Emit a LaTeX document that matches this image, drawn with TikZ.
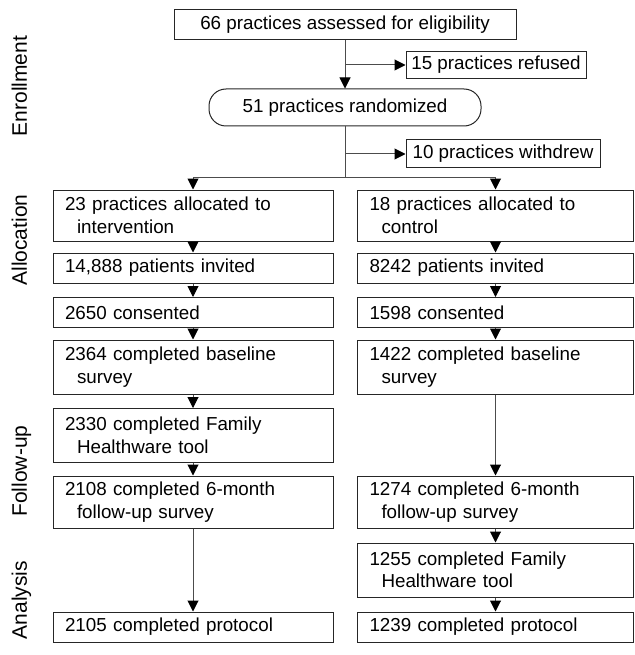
\documentclass[tikz,border=0pt]{standalone}
\usepackage{fontspec}
\setmainfont{Liberation Sans}
\usetikzlibrary{arrows.meta}
\newcommand{\boxfont}{\fontsize{18.8}{22.5}\selectfont}
\newcommand{\phasefont}{\fontsize{21}{24}\selectfont}
\tikzstyle{box} = [rectangle,
draw=black!85,
line width=1pt,
inner ysep=3pt,
font=\boxfont]
\tikzstyle{lbox} = [box, text width=256pt, inner xsep=12pt, align=left]
\tikzstyle{rbox} = [box, text width=252pt, inner xsep=12pt, align=left]
\tikzstyle{phase} = [rotate=90, anchor=base, font=\phasefont]
\tikzstyle{line} = [line width=1pt, draw=black!70]
\tikzstyle{arrow} = [line, -{Triangle[width=11pt,length=11pt,black]}]

\begin{document}
\begin{tikzpicture}[x=1pt, y=-1pt]
\useasboundingbox (0,0) rectangle (634,655);
% phases
\node (enroll) [phase] at (27,86) {Enrollment};
\node (alloc) [phase] at (27,240) {Allocation};
\node (follow) [phase] at (27,471) {Follow-up};
\node (analysis) [phase] at (27,600) {Analysis};
% enrollment
\node (top) [box, minimum width=342pt, minimum height=30pt] at (345,25) {66 practices assessed for eligibility};
\node (refused) [box, minimum width=180pt, minimum height=27pt] at (496,65) {15 practices refused};
\node (rand) [box, rounded corners=17pt, minimum width=272pt, minimum height=37pt] at (345,107.5) {51 practices randomized};
\node (withdrew) [box, minimum width=194pt, minimum height=28pt] at (503,154) {10 practices withdrew};
\coordinate (c1) at (345,65);
\coordinate (c2) at (345,154);
\coordinate (split) at (345,177);
\coordinate (splitL) at (193,177);
\coordinate (splitR) at (495.5,177);
% intervention arm
\node (l1) [lbox, minimum height=51pt] at (193,215.5) {23 practices allocated to\\\hspace*{12pt}intervention};
\node (l2) [lbox, minimum height=30pt] at (193,268) {14,888 patients invited};
\node (l3) [lbox, minimum height=30pt] at (193,312.5) {2650 consented};
\node (l4) [lbox, minimum height=54pt] at (193,367) {2364 completed baseline\\\hspace*{12pt}survey};
\node (l5) [lbox, minimum height=54pt] at (193,435.5) {2330 completed Family\\\hspace*{12pt}Healthware tool};
\node (l6) [lbox, minimum height=52pt] at (193,502) {2108 completed 6-month\\\hspace*{12pt}follow-up survey};
\node (l7) [lbox, minimum height=30pt] at (193,627) {2105 completed protocol};
% control arm
\node (r1) [rbox, minimum height=51pt] at (495.5,215.5) {18 practices allocated to\\\hspace*{12pt}control};
\node (r2) [rbox, minimum height=30pt] at (495.5,268) {8242 patients invited};
\node (r3) [rbox, minimum height=30pt] at (495.5,312.5) {1598 consented};
\node (r4) [rbox, minimum height=54pt] at (495.5,367) {1422 completed baseline\\\hspace*{12pt}survey};
\node (r5) [rbox, minimum height=52pt] at (495.5,502) {1274 completed 6-month\\\hspace*{12pt}follow-up survey};
\node (r6) [rbox, minimum height=54pt] at (495.5,570) {1255 completed Family\\\hspace*{12pt}Healthware tool};
\node (r7) [rbox, minimum height=30pt] at (495.5,627) {1239 completed protocol};
% connectors
\draw [arrow] (top) -- (rand);
\draw [arrow] (c1) -- (refused);
\draw [line] (rand) -- (split);
\draw [arrow] (c2) -- (withdrew);
\draw [line] (splitL) -- (splitR);
\draw [arrow] (splitL) -- (l1);
\draw [arrow] (splitR) -- (r1);
\draw [arrow] (l1) -- (l2);
\draw [arrow] (l2) -- (l3);
\draw [arrow] (l3) -- (l4);
\draw [arrow] (l4) -- (l5);
\draw [arrow] (l5) -- (l6);
\draw [arrow] (l6) -- (l7);
\draw [arrow] (r1) -- (r2);
\draw [arrow] (r2) -- (r3);
\draw [arrow] (r3) -- (r4);
\draw [arrow] (r4) -- (r5);
\draw [arrow] (r5) -- (r6);
\draw [arrow] (r6) -- (r7);
\end{tikzpicture}
\end{document}
